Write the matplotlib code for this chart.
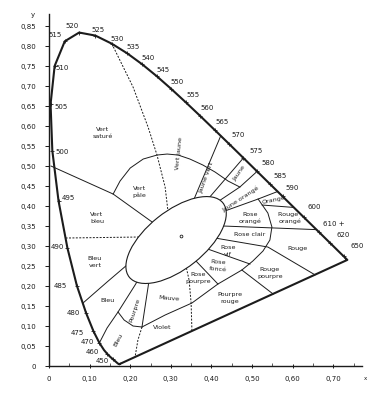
import matplotlib.pyplot as plt
from matplotlib.patches import Ellipse
from matplotlib.ticker import FuncFormatter, MultipleLocator

# ---------------- spectral locus (CIE 1931) ----------------
wavelengths = [380, 400, 420, 430, 440, 450, 455, 460, 465, 470, 475, 480, 485,
               490, 495, 500, 505, 510, 515, 520, 525, 530, 535, 540, 545, 550,
               555, 560, 565, 570, 575, 580, 585, 590, 595, 600, 605, 610, 615,
               620, 625, 630, 640, 650, 660, 680, 700]
locus_x = [0.1741, 0.1733, 0.1714, 0.1689, 0.1644, 0.1566, 0.1510, 0.1440, 0.1355,
           0.1241, 0.1096, 0.0913, 0.0687, 0.0454, 0.0235, 0.0082, 0.0039, 0.0139,
           0.0389, 0.0743, 0.1142, 0.1547, 0.1929, 0.2296, 0.2658, 0.3016, 0.3373,
           0.3731, 0.4087, 0.4441, 0.4788, 0.5125, 0.5448, 0.5752, 0.6029, 0.6270,
           0.6482, 0.6658, 0.6801, 0.6915, 0.7006, 0.7079, 0.7190, 0.7260, 0.7300,
           0.7334, 0.7347]
locus_y = [0.0050, 0.0048, 0.0051, 0.0069, 0.0109, 0.0177, 0.0227, 0.0297, 0.0399,
           0.0578, 0.0868, 0.1327, 0.2007, 0.2950, 0.4127, 0.5384, 0.6548, 0.7502,
           0.8120, 0.8338, 0.8262, 0.8059, 0.7816, 0.7543, 0.7243, 0.6923, 0.6589,
           0.6245, 0.5896, 0.5547, 0.5202, 0.4866, 0.4544, 0.4242, 0.3965, 0.3725,
           0.3514, 0.3340, 0.3197, 0.3083, 0.2993, 0.2920, 0.2809, 0.2740, 0.2700,
           0.2666, 0.2653]

# labelled wavelengths and label offsets (pixels)
marked = [450, 460, 470, 475, 480, 485, 490, 495, 500, 505, 510, 515, 520, 525,
          530, 535, 540, 545, 550, 555, 560, 565, 570, 575, 580, 585, 590, 600,
          610, 620, 650]
marked_text = ['450', '460', '470', '475', '480', '485', '490', '495', '500', '505',
               '510', '515', '520', '525', '530', '535', '540', '545', '550', '555',
               '560', '565', '570', '575', '580', '585', '590', '600', '610 +',
               '620', '650']
marked_off = [(-10, -2), (-15, 2), (-12, 1), (-16, -2), (-13, 0), (-17, 0), (-10, 1),
              (10, 3), (10, -1), (11, -3), (8, -2), (-10, 6), (-7, 7), (3, 6), (5, 5),
              (6, 6), (6, 6), (6, 6), (6, 7), (7, 7), (7, 8), (7, 8), (9, 9), (13, 7),
              (11, 8), (10, 8), (10, 8), (11, 10), (14, 8), (13, 8), (13, 10)]

# ---------------- region boundaries (x, y) ----------------
vert_sature_bleu = [(0.005, 0.500), (0.158, 0.430), (0.254, 0.360), (0.270, 0.350)]
vert_pale_arc = [(0.158, 0.430), (0.175, 0.4625), (0.200, 0.495), (0.232, 0.5175),
                 (0.266, 0.5275), (0.291, 0.530), (0.318, 0.5275), (0.347, 0.5175),
                 (0.379, 0.5025), (0.409, 0.485), (0.441, 0.4625), (0.470, 0.4475)]
vert_jaune_dash = [(0.1547, 0.8059), (0.207, 0.6975), (0.244, 0.5975), (0.266, 0.5275),
                   (0.286, 0.4475), (0.295, 0.370)]
jaune_vert_1 = [(0.423, 0.5756), (0.350, 0.400)]
jaune_vert_2 = [(0.4788, 0.5202), (0.398, 0.425), (0.385, 0.410)]
jaune_orange_1 = [(0.5125, 0.4866), (0.470, 0.4475), (0.411, 0.4075), (0.400, 0.400)]
jaune_orange_2 = [(0.5630, 0.4363), (0.515, 0.4175), (0.426, 0.385), (0.410, 0.380)]
orange_rouge = [(0.525, 0.4025), (0.6029, 0.3965)]
rose_ring = [(0.515, 0.4175), (0.539, 0.3825), (0.549, 0.3475), (0.544, 0.315),
             (0.527, 0.2875), (0.502, 0.2625), (0.475, 0.240), (0.416, 0.205),
             (0.352, 0.1575), (0.286, 0.1275), (0.229, 0.0975), (0.207, 0.100),
             (0.185, 0.115), (0.170, 0.135)]
rose_clair_top = [(0.400, 0.350), (0.430, 0.350), (0.659, 0.341)]
rose_clair_bottom = [(0.400, 0.322), (0.409, 0.320), (0.539, 0.2975), (0.655, 0.228)]
rose_vif_fonce = [(0.384, 0.295), (0.495, 0.255)]
rose_fonce_pourpre = [(0.355, 0.270), (0.416, 0.205)]
rouge_pourpre = [(0.475, 0.240), (0.552, 0.180)]
mauve_rose_dash = [(0.333, 0.270), (0.345, 0.215), (0.350, 0.1575), (0.352, 0.0876)]
pourpre_mauve = [(0.250, 0.240), (0.244, 0.1975), (0.229, 0.0975)]
violet_bleu_dash = [(0.229, 0.0975), (0.219, 0.065), (0.212, 0.023)]
bleu_pourpre = [(0.225, 0.225), (0.212, 0.2025), (0.170, 0.135), (0.143, 0.095),
                (0.1241, 0.0578)]
bleu_vert_bleu = [(0.0832, 0.157), (0.143, 0.210), (0.192, 0.2525), (0.200, 0.260)]
vert_bleu_dash = [(0.041, 0.320), (0.219, 0.3225), (0.235, 0.3225)]

solid_lines = [vert_sature_bleu, vert_pale_arc, jaune_vert_1, jaune_vert_2,
               jaune_orange_1, jaune_orange_2, orange_rouge, rose_ring,
               rose_clair_top, rose_clair_bottom, rose_vif_fonce,
               rose_fonce_pourpre, rouge_pourpre, pourpre_mauve, bleu_pourpre,
               bleu_vert_bleu]
dashed_lines = [vert_jaune_dash, mauve_rose_dash, violet_bleu_dash, vert_bleu_dash]

# white region
white_center = (0.313, 0.315)
white_point = (0.325, 0.325)

# region names: text, x, y, rotation
region_names = [
    ('Vert\nsaturé', 0.133, 0.583, 0), ('Vert\npâle', 0.222, 0.435, 0),
    ('Vert\nbleu', 0.118, 0.371, 0), ('Bleu\nvert', 0.113, 0.261, 0),
    ('Bleu', 0.143, 0.165, 0), ('Pourpre', 0.212, 0.140, 72),
    ('Bleu', 0.170, 0.065, 62), ('Mauve', 0.296, 0.170, -5),
    ('Violet', 0.278, 0.0975, 0), ('Rose\npourpre', 0.367, 0.220, 0),
    ('Rose\nfoncé', 0.416, 0.250, -5), ('Pourpre\nrouge', 0.446, 0.170, 0),
    ('Rose\nvif', 0.441, 0.2875, 0), ('Rouge\npourpre', 0.544, 0.2325, 0),
    ('Rose clair', 0.495, 0.330, 0), ('Rouge', 0.613, 0.295, 0),
    ('Rose\norangé', 0.495, 0.370, 0), ('Rouge ,\norangé', 0.594, 0.370, 0),
    ('Orange', 0.554, 0.415, 12), ('Jaune orangé', 0.473, 0.4175, 33),
    ('Jaune', 0.470, 0.4825, 55), ('Jaune vert', 0.389, 0.470, 70),
    ('Vert jaune', 0.320, 0.5325, 84),
]

x_ticks = [0, 0.1, 0.2, 0.3, 0.4, 0.5, 0.6, 0.7]
y_ticks = [0, 0.05, 0.10, 0.15, 0.20, 0.25, 0.30, 0.35, 0.40, 0.45, 0.50, 0.55,
           0.60, 0.65, 0.70, 0.75, 0.80, 0.85]

# ---------------- plotting ----------------
ink = '#1c1c1c'
fig = plt.figure(figsize=(3.74, 3.95), dpi=100)
ax = fig.add_axes([0.131, 0.0734, 0.836, 0.891])
ax.set_xlim(0, 0.77)
ax.set_ylim(0, 0.88)

# locus + purple line
ax.plot(locus_x + [locus_x[0]], locus_y + [locus_y[0]], color=ink, lw=1.5,
        solid_joinstyle='round', zorder=4)

for seg in solid_lines:
    xs, ys = zip(*seg)
    ax.plot(xs, ys, color=ink, lw=0.7, zorder=2)
for seg in dashed_lines:
    xs, ys = zip(*seg)
    ax.plot(xs, ys, color=ink, lw=0.7, ls=(0, (2, 1.5)), zorder=2)

ell = Ellipse(white_center, 0.296, 0.144, angle=39, fc='white', ec=ink,
              lw=0.8, zorder=3)
ax.add_patch(ell)
ax.plot(*white_point, 'o', ms=2, mfc='white', mec=ink, mew=0.6, zorder=5)

# wavelength ticks and labels
for wl, txt, off in zip(marked, marked_text, marked_off):
    i = wavelengths.index(wl)
    px, py = locus_x[i], locus_y[i]
    ax.plot(px, py, '+', ms=3, mew=0.6, color=ink, zorder=5)
    ax.annotate(txt, (px, py), xytext=off, textcoords='offset pixels',
                fontsize=5, ha='center', va='center', color=ink)

for txt, tx, ty, rot in region_names:
    ax.text(tx, ty, txt, fontsize=4.6, ha='center', va='center', rotation=rot,
            rotation_mode='anchor', linespacing=1.5, color=ink, zorder=6)

# axes styling
for s in ['top', 'right']:
    ax.spines[s].set_visible(False)
for s in ['left', 'bottom']:
    ax.spines[s].set_linewidth(1.0)
    ax.spines[s].set_color(ink)

fmt = FuncFormatter(lambda v, _: '0' if abs(v) < 1e-9 else f'{v:.2f}'.replace('.', ','))
ax.set_xticks(x_ticks)
ax.set_yticks(y_ticks)
ax.xaxis.set_major_formatter(fmt)
ax.yaxis.set_major_formatter(fmt)
ax.xaxis.set_minor_locator(MultipleLocator(0.05))
ax.tick_params(axis='y', length=3, width=0.7, pad=6, labelsize=5, colors=ink)
ax.tick_params(axis='x', which='major', length=3, width=0.7, direction='inout',
               pad=6, labelsize=5, colors=ink)
ax.tick_params(axis='x', which='minor', length=2, width=0.5, direction='in', colors=ink)

ax.text(-0.039, 0.8775, 'y', fontsize=5, ha='center', va='center', color=ink,
        clip_on=False)
ax.text(0.78, -0.03, 'x', fontsize=4, ha='center', va='center', color=ink,
        clip_on=False)

fig.savefig('out.png', dpi=100)
